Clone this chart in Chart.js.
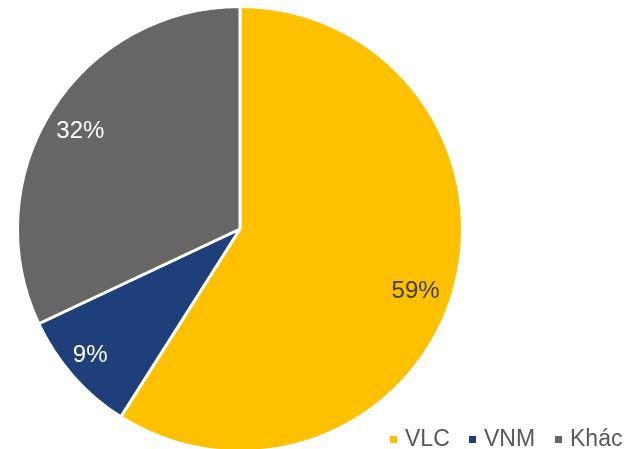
<!DOCTYPE html>
<html>
<head>
<meta charset="utf-8">
<script src="https://cdn.jsdelivr.net/npm/chart.js@4.4.0/dist/chart.umd.min.js"></script>
<style>
  html, body { margin: 0; padding: 0; background: #fff; overflow: hidden; }
  #wrap { position: relative; width: 626px; height: 458px; }
</style>
</head>
<body>
<div id="wrap"><canvas id="pieChart"></canvas></div>
<script>
// Dados do gráfico
const labels = ['VLC', 'VNM', 'Khác'];
const values = [59, 9, 32];
const colors = ['#FFC000', '#1F3F7A', '#666666'];
const labelColors = ['#404040', '#FFFFFF', '#FFFFFF'];
// pequenos ajustes de posição dos rótulos (px)
const labelNudge = [[-6, 9], [-8, 0], [0, 3]];
// posição x de cada item da legenda (quadrado)
const legendX = [390, 469, 555];

const FONT = 'Arial, "Liberation Sans", sans-serif';

// Rótulos de porcentagem dentro das fatias
const sliceLabels = {
    id: 'sliceLabels',
    afterDatasetsDraw(chart) {
        const ctx = chart.ctx;
        const meta = chart.getDatasetMeta(0);
        ctx.save();
        ctx.font = '24px ' + FONT;
        ctx.textAlign = 'center';
        ctx.textBaseline = 'middle';
        meta.data.forEach((arc, i) => {
            const p = arc.getProps(['x', 'y', 'startAngle', 'endAngle', 'outerRadius'], true);
            const mid = (p.startAngle + p.endAngle) / 2;
            const r = p.outerRadius * 0.85;
            ctx.fillStyle = labelColors[i];
            ctx.fillText(values[i] + '%',
                p.x + Math.cos(mid) * r + labelNudge[i][0],
                p.y + Math.sin(mid) * r + 1 + labelNudge[i][1]);
        });
        ctx.restore();
    }
};

// Legenda no canto inferior direito
const cornerLegend = {
    id: 'cornerLegend',
    afterDraw(chart) {
        const ctx = chart.ctx;
        ctx.save();
        ctx.font = '23px ' + FONT;
        ctx.textBaseline = 'alphabetic';
        labels.forEach((lab, i) => {
            const x = legendX[i];
            ctx.fillStyle = colors[i];
            ctx.fillRect(x, 436, 7, 7);
            ctx.fillStyle = '#595959';
            ctx.fillText(lab, x + 15, 446);
        });
        ctx.restore();
    }
};

new Chart(document.getElementById('pieChart'), {
    type: 'pie',
    data: {
        labels: labels,
        datasets: [{
            data: values,
            backgroundColor: colors,
            borderColor: '#FFFFFF',
            borderWidth: 3
        }]
    },
    options: {
        responsive: true,
        maintainAspectRatio: false,
        animation: false,
        layout: { padding: { top: 5, bottom: 5, left: 16, right: 162 } },
        plugins: {
            legend: { display: false },
            tooltip: { enabled: false }
        }
    },
    plugins: [sliceLabels, cornerLegend]
});
</script>
</body>
</html>
